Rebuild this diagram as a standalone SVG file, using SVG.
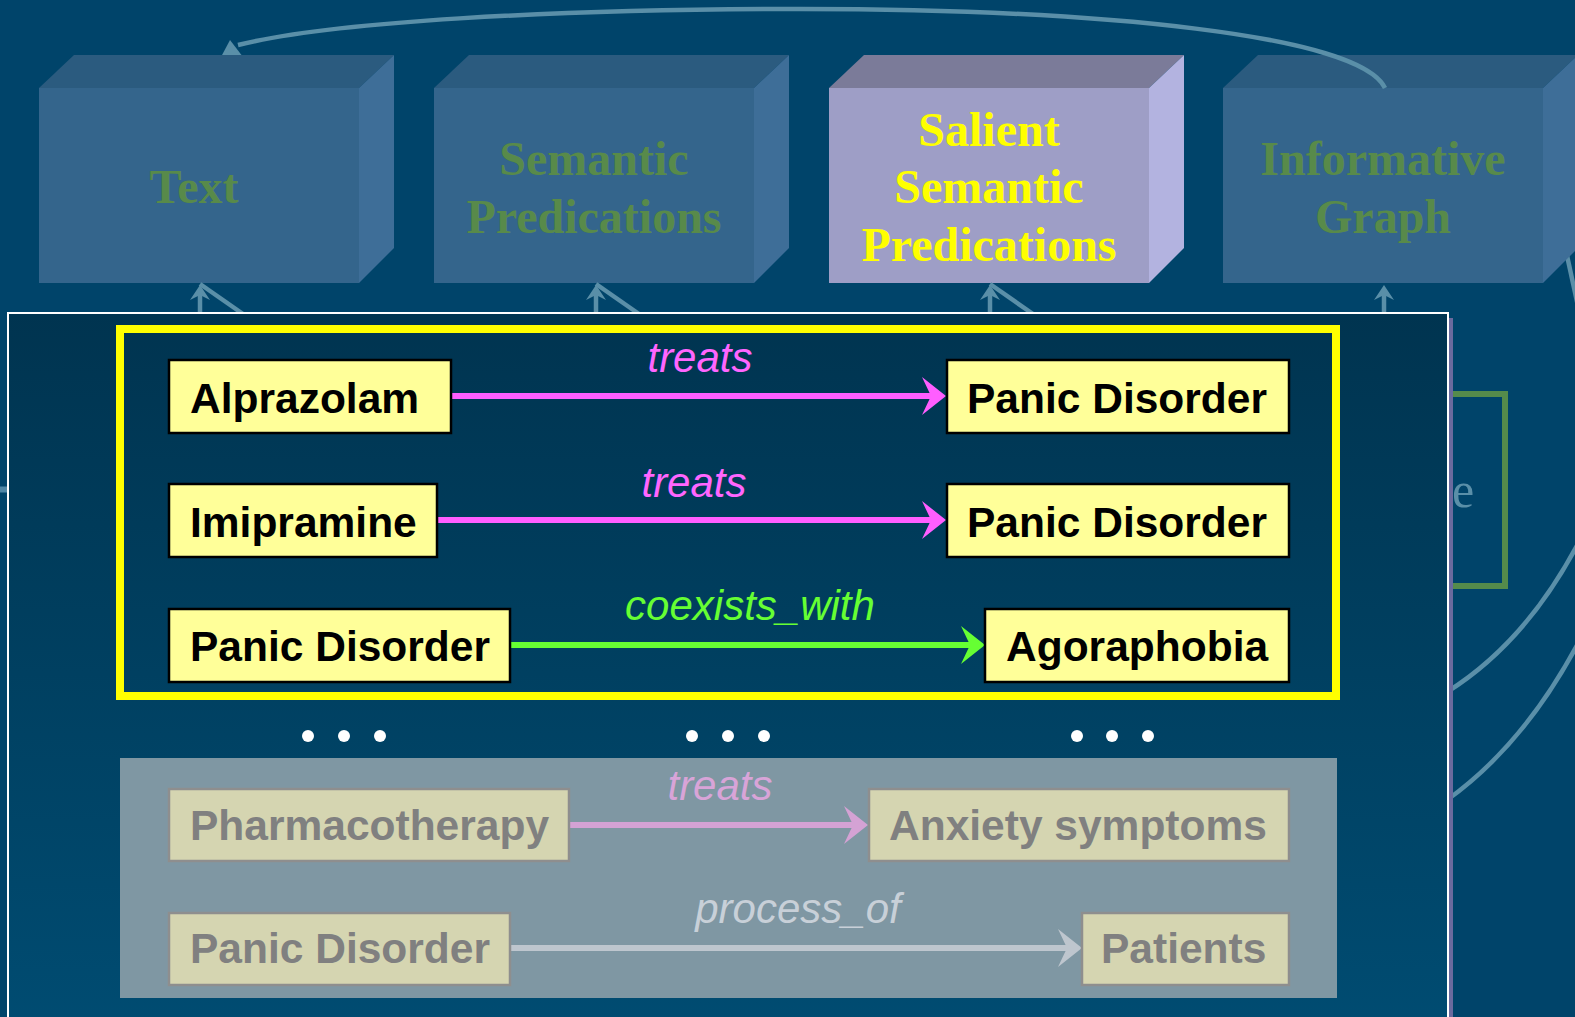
<svg xmlns="http://www.w3.org/2000/svg" width="1575" height="1017" viewBox="0 0 1575 1017">
<defs>
<linearGradient id="panelGrad" x1="0" y1="0" x2="0" y2="1">
<stop offset="0" stop-color="#003450"/>
<stop offset="1" stop-color="#004C72"/>
</linearGradient>
<marker id="mPink" markerUnits="userSpaceOnUse" markerWidth="26" markerHeight="40" viewBox="0 -20 26 40" refX="16" refY="0" orient="auto"><path d="M0,-19 L24,0 L0,19 L9,0 Z" fill="#FF5EFF"/></marker>
<marker id="mGreen" markerUnits="userSpaceOnUse" markerWidth="26" markerHeight="40" viewBox="0 -20 26 40" refX="16" refY="0" orient="auto"><path d="M0,-19 L24,0 L0,19 L9,0 Z" fill="#66FF33"/></marker>
<marker id="mDimPink" markerUnits="userSpaceOnUse" markerWidth="26" markerHeight="40" viewBox="0 -20 26 40" refX="16" refY="0" orient="auto"><path d="M0,-19 L24,0 L0,19 L9,0 Z" fill="#D4A2D4"/></marker>
<marker id="mDimGray" markerUnits="userSpaceOnUse" markerWidth="26" markerHeight="40" viewBox="0 -20 26 40" refX="16" refY="0" orient="auto"><path d="M0,-19 L24,0 L0,19 L9,0 Z" fill="#BEC6CE"/></marker>
<marker id="mSteel" markerUnits="userSpaceOnUse" markerWidth="22" markerHeight="22" viewBox="0 -11 22 22" refX="10" refY="0" orient="auto"><path d="M0,-10 L15,0 L0,10 L5,0 Z" fill="#5A8FA8"/></marker>
</defs>
<style>
.bg{fill:#00446A}
.front{fill:#34658C}
.top{fill:#2B5B7F}
.side{fill:#3E6E98}
.sfront{fill:#9E9EC6}
.stop{fill:#7B7B99}
.sside{fill:#B3B3E0}
.boxlbl{font-family:"Liberation Serif","Times New Roman",serif;font-weight:bold;font-size:48px;text-anchor:middle;fill:#588A4A}
.boxlbl.sal{fill:#FFFF00}
.steel{fill:none;stroke:#5A8FA8;stroke-width:4.5}
.node rect{fill:#FFFF99;stroke:#000;stroke-width:2.5}
.node text{font-family:"Liberation Sans",Arial,sans-serif;font-weight:bold;font-size:42.5px;fill:#000}
.dim rect{fill:#D5D5B1;stroke:#8E8E8E;stroke-width:2.5}
.dim text{fill:#808080}
.edge{stroke-width:6;fill:none}
.lbl{font-family:"Liberation Sans",Arial,sans-serif;font-style:italic;font-size:42px;text-anchor:middle}
.dot{fill:#FFFFFF}
</style>
<rect class="bg" x="0" y="0" width="1575" height="1017"/>

<g id="background-shapes">
<line class="steel" x1="1561" y1="228" x2="1581" y2="320"/>
<path class="steel" d="M1584,532 Q1530,640 1447,692"/>
<path class="steel" d="M1584,632 Q1528,742 1447,800"/>
<line x1="-5" y1="489.5" x2="20" y2="489.5" stroke="#4F87A6" stroke-width="6"/>
<rect x="1300" y="394" width="205" height="192" fill="none" stroke="#558B4B" stroke-width="6"/>
<text x="1452" y="507" font-family="'Liberation Serif','Times New Roman',serif" font-size="50" fill="#5A8FA8">e</text>
</g>

<g id="connector-head-top">
<polygon points="230,40 221,57 243,57" fill="#5A8FA8"/>
</g>

<g id="box-text">
<polygon class="top" points="39,88 74,55 394,55 359,88"/>
<polygon class="side" points="359,88 394,55 394,248 359,283"/>
<rect class="front" x="39" y="88" width="320" height="195"/>
<text class="boxlbl" x="194" y="203">Text</text>
</g>
<g id="box-semantic-predications">
<polygon class="top" points="434,88 469,55 789,55 754,88"/>
<polygon class="side" points="754,88 789,55 789,248 754,283"/>
<rect class="front" x="434" y="88" width="320" height="195"/>
<text class="boxlbl" x="594" y="175">Semantic</text>
<text class="boxlbl" x="594" y="233">Predications</text>
</g>
<g id="box-salient">
<polygon class="stop" points="829,88 864,55 1184,55 1149,88"/>
<polygon class="sside" points="1149,88 1184,55 1184,248 1149,283"/>
<rect class="sfront" x="829" y="88" width="320" height="195"/>
<text class="boxlbl sal" x="989" y="146">Salient</text>
<text class="boxlbl sal" x="989" y="203">Semantic</text>
<text class="boxlbl sal" x="989" y="261">Predications</text>
</g>
<g id="box-informative-graph">
<polygon class="top" points="1223,88 1258,55 1578,55 1543,88"/>
<polygon class="side" points="1543,88 1578,55 1578,248 1543,283"/>
<rect class="front" x="1223" y="88" width="320" height="195"/>
<text class="boxlbl" x="1383" y="175">Informative</text>
<text class="boxlbl" x="1383" y="233">Graph</text>
</g>

<g id="connectors-top">
<path class="steel" d="M1385,88 C1360,35 1100,9 800,9 C550,9 330,22 238,45"/>
</g>

<g id="connectors-up">
<line class="steel" x1="200" y1="314" x2="200" y2="290" marker-end="url(#mSteel)"/>
<line class="steel" x1="200" y1="284" x2="243" y2="314"/>
<line class="steel" x1="596" y1="314" x2="596" y2="290" marker-end="url(#mSteel)"/>
<line class="steel" x1="596" y1="284" x2="639" y2="314"/>
<line class="steel" x1="990" y1="314" x2="990" y2="290" marker-end="url(#mSteel)"/>
<line class="steel" x1="990" y1="284" x2="1033" y2="314"/>
<line class="steel" x1="1384" y1="314" x2="1384" y2="290" marker-end="url(#mSteel)"/>
</g>

<g id="panel">
<rect x="13" y="318" width="1440" height="720" fill="#6A6A9E"/>
<rect x="8" y="313" width="1440" height="720" fill="url(#panelGrad)" stroke="#FFFFFF" stroke-width="2"/>
<rect x="120" y="329" width="1216" height="367" fill="none" stroke="#FFFF00" stroke-width="8"/>
<rect x="120" y="758" width="1217" height="240" fill="#7F97A3"/>
</g>

<g id="connectors">
<line class="edge" x1="451" y1="396" x2="938" y2="396" stroke="#FF5EFF" marker-end="url(#mPink)"/>
<text class="lbl" x="700" y="372" fill="#FF66FF">treats</text>
<line class="edge" x1="437" y1="520" x2="938" y2="520" stroke="#FF5EFF" marker-end="url(#mPink)"/>
<text class="lbl" x="694" y="497" fill="#FF66FF">treats</text>
<line class="edge" x1="510" y1="645" x2="977" y2="645" stroke="#66FF33" marker-end="url(#mGreen)"/>
<text class="lbl" x="750" y="620" fill="#66FF33">coexists_with</text>
<line class="edge" x1="569" y1="825" x2="860" y2="825" stroke="#D4A2D4" marker-end="url(#mDimPink)"/>
<text class="lbl" x="720" y="800" fill="#D8A4D8">treats</text>
<line class="edge" x1="510" y1="948" x2="1074" y2="948" stroke="#BEC6CE" marker-end="url(#mDimGray)"/>
<text class="lbl" x="798" y="923" fill="#C8D0D8">process_of</text>
</g>

<g id="node-alprazolam" class="node"><rect x="169" y="360" width="282" height="73"/><text x="190" y="413">Alprazolam</text></g>
<g id="node-panic1" class="node"><rect x="947" y="360" width="342" height="73"/><text x="967" y="413">Panic Disorder</text></g>
<g id="node-imipramine" class="node"><rect x="169" y="484" width="268" height="73"/><text x="190" y="537">Imipramine</text></g>
<g id="node-panic2" class="node"><rect x="947" y="484" width="342" height="73"/><text x="967" y="537">Panic Disorder</text></g>
<g id="node-panic3" class="node"><rect x="169" y="609" width="341" height="73"/><text x="190" y="661">Panic Disorder</text></g>
<g id="node-agoraphobia" class="node"><rect x="985" y="609" width="304" height="73"/><text x="1006" y="661">Agoraphobia</text></g>

<g id="ellipses">
<circle class="dot" cx="308" cy="736" r="6"/><circle class="dot" cx="344" cy="736" r="6"/><circle class="dot" cx="380" cy="736" r="6"/>
<circle class="dot" cx="692" cy="736" r="6"/><circle class="dot" cx="728" cy="736" r="6"/><circle class="dot" cx="764" cy="736" r="6"/>
<circle class="dot" cx="1077" cy="736" r="6"/><circle class="dot" cx="1112" cy="736" r="6"/><circle class="dot" cx="1148" cy="736" r="6"/>
</g>

<g id="node-pharmacotherapy" class="node dim"><rect x="169" y="789" width="400" height="72"/><text x="190" y="840">Pharmacotherapy</text></g>
<g id="node-anxiety" class="node dim"><rect x="869" y="789" width="420" height="72"/><text x="889" y="840">Anxiety symptoms</text></g>
<g id="node-panic4" class="node dim"><rect x="169" y="913" width="341" height="72"/><text x="190" y="963">Panic Disorder</text></g>
<g id="node-patients" class="node dim"><rect x="1082" y="913" width="207" height="72"/><text x="1101" y="963">Patients</text></g>
</svg>
